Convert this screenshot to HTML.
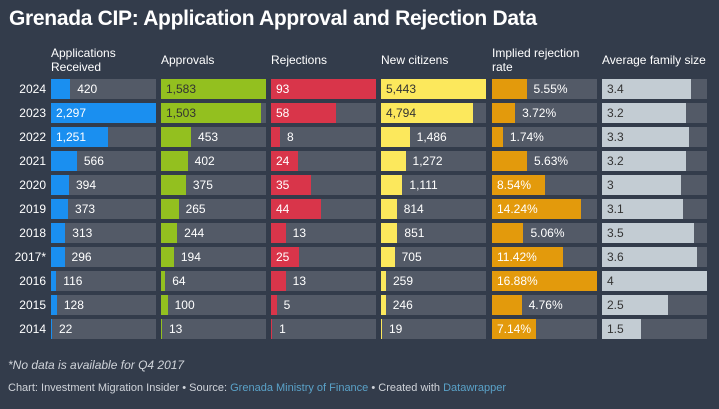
<!DOCTYPE html>
<html><head><meta charset="utf-8">
<style>
html,body{margin:0;padding:0;}
body{width:719px;height:409px;background:#333c4b;font-family:"Liberation Sans",Arial,sans-serif;color:#fff;position:relative;overflow:hidden;}
#title{position:absolute;left:9px;top:7px;font-size:21px;font-weight:bold;letter-spacing:-0.3px;white-space:nowrap;}
.hdr{position:absolute;font-size:12px;line-height:14px;color:#fff;}
.yr{position:absolute;left:0;width:46px;text-align:right;font-size:12px;}
.cell{position:absolute;height:20px;background:#535a67;}
.bar{position:absolute;left:0;top:0;height:20px;}
.lbl{position:absolute;top:0;line-height:20px;font-size:12px;white-space:nowrap;}
#note{position:absolute;left:8px;top:358px;font-size:12px;font-style:italic;color:#d0d4da;}
#foot{position:absolute;left:8px;top:382px;font-size:11px;color:#d0d4da;}
#foot a{color:#5aa2c8;text-decoration:none;}
</style></head><body>
<div id="title">Grenada CIP: Application Approval and Rejection Data</div>
<div id="chart"></div>
<div id="note">*No data is available for Q4 2017</div>
<div id="foot">Chart: Investment Migration Insider • Source: <a>Grenada Ministry of Finance</a> • Created with <a>Datawrapper</a></div>
<script>
const years=["2024","2023","2022","2021","2020","2019","2018","2017*","2016","2015","2014"];
const applications=[420,2297,1251,566,394,373,313,296,116,128,22];
const approvals=[1583,1503,453,402,375,265,244,194,64,100,13];
const rejections=[93,58,8,24,35,44,13,25,13,5,1];
const newCitizens=[5443,4794,1486,1272,1111,814,851,705,259,246,19];
const rejectionRate=[5.55,3.72,1.74,5.63,8.54,14.24,5.06,11.42,16.88,4.76,7.14];
const familySize=[3.4,3.2,3.3,3.2,3,3.1,3.5,3.6,4,2.5,1.5];
const headers=["Applications<br>Received","Approvals","Rejections","New citizens","Implied rejection<br>rate","Average family size"];

const cols=[
 {vals:applications,max:2297,color:"#1a8ff0",inText:"#fff",fmt:v=>v.toLocaleString("en-US"),th:0.4,name:"applications"},
 {vals:approvals,max:1583,color:"#93c01f",inText:"#333",fmt:v=>v.toLocaleString("en-US"),th:0.4,name:"approvals"},
 {vals:rejections,max:93,color:"#d9354a",inText:"#fff",fmt:v=>String(v),th:0.2,name:"rejections"},
 {vals:newCitizens,max:5443,color:"#fce85c",inText:"#333",fmt:v=>v.toLocaleString("en-US"),th:0.4,name:"new-citizens"},
 {vals:rejectionRate,max:16.88,color:"#e39a0c",inText:"#fff",fmt:v=>v.toFixed(2)+"%",th:0.4,name:"rejection-rate"},
 {vals:familySize,max:4,color:"#c3ccd3",inText:"#333",fmt:v=>String(v),th:0,name:"family-size"}
];
const colX=[51,161,271,381,492,602], colW=105, rowY0=79, rowPitch=24;
const chart=document.getElementById('chart');
const xScale=(v,max)=>v/max*colW;
const yScale=i=>rowY0+i*rowPitch;

headers.forEach((h,c)=>{
  const d=document.createElement('div');
  d.className='hdr';
  
  
  d.style.left=colX[c]+'px';
  d.style.top=(h.includes('<br>')?46:53)+'px';
  d.innerHTML=h;
  chart.appendChild(d);
});
years.forEach((y,i)=>{
  const d=document.createElement('div');
  d.className='yr';
  
  
  d.style.top=(yScale(i)+3)+'px';
  d.textContent=y;
  chart.appendChild(d);
});
cols.forEach((col,c)=>{
  col.vals.forEach((v,i)=>{
    const cell=document.createElement('div');
    cell.className='cell';
    
    
    cell.style.left=colX[c]+'px';cell.style.top=yScale(i)+'px';cell.style.width=colW+'px';
    const w=Math.max(1,xScale(v,col.max));
    const b=document.createElement('div');
    b.className='bar';
    
    
    b.style.width=w+'px';b.style.background=col.color;
    cell.appendChild(b);
    const l=document.createElement('div');
    l.className='lbl';
    
    
    const inside=v/col.max>=col.th;
    if(inside){l.style.left='5px';l.style.color=col.inText;}
    else{l.style.left=(w+7)+'px';l.style.color='#fff';}
    l.textContent=col.fmt(v);
    cell.appendChild(l);
    chart.appendChild(cell);
  });
});
</script>
</body></html>
